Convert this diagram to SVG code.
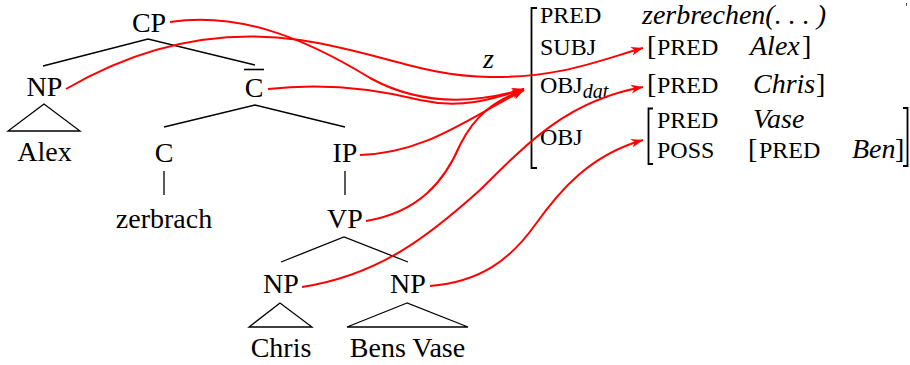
<svg xmlns="http://www.w3.org/2000/svg" width="910" height="365" viewBox="0 0 910 365">
<style>
.t,.i,.sc,.sub{font-family:"Liberation Serif","Times New Roman",Tinos,"DejaVu Serif",serif;fill:#000}
.t{font-size:28px}
.i{font-size:28px;font-style:italic}
.sc{font-size:24px}
.sub{font-size:20px;font-style:italic}
.e{stroke:#000;stroke-width:1.3;fill:none}
.br{stroke:#000;stroke-width:1.8;fill:none}
.a{stroke:#ff0000;stroke-width:2;fill:none;marker-end:url(#ah)}
</style>
<defs>
<marker id="ah" markerUnits="userSpaceOnUse" markerWidth="14" markerHeight="10" refX="12" refY="5" orient="auto">
<path d="M0,0.5 L12,5 L0,9.5 L3.5,5 Z" fill="#ff0000"/>
</marker>
</defs>
<rect width="910" height="365" fill="#fff"/>

<g id="tree-edges">
<path class="e" d="M43,66 L148,39 L255,65"/>
<path class="e" d="M164,127 L255,105 L345,127"/>
<path class="e" d="M164,171 L164,195"/>
<path class="e" d="M345,171 L345,195"/>
<path class="e" d="M281,262 L344,237 L408,262"/>
</g>

<g id="CP"><text class="t" x="149" y="32" text-anchor="middle">CP</text></g>
<g id="NP-Alex">
<text class="t" x="44.5" y="96" text-anchor="middle">NP</text>
<path class="e" d="M44,104 L8,131 L80,131 Z"/>
<text class="t" x="44.5" y="161" text-anchor="middle">Alex</text>
</g>
<g id="Cbar">
<text class="t" x="254" y="97" text-anchor="middle">C</text>
<line x1="244" y1="69.5" x2="264" y2="69.5" stroke="#000" stroke-width="1.6"/>
</g>
<g id="C">
<text class="t" x="164" y="162" text-anchor="middle">C</text>
<text class="t" x="164" y="228" text-anchor="middle">zerbrach</text>
</g>
<g id="IP"><text class="t" x="345" y="162" text-anchor="middle">IP</text></g>
<g id="VP"><text class="t" x="345" y="228" text-anchor="middle">VP</text></g>
<g id="NP-Chris">
<text class="t" x="281" y="293" text-anchor="middle">NP</text>
<path class="e" d="M280,303 L249,327 L312,327 Z"/>
<text class="t" x="281" y="357" text-anchor="middle">Chris</text>
</g>
<g id="NP-BensVase">
<text class="t" x="408" y="293" text-anchor="middle">NP</text>
<path class="e" d="M407,303 L347,327 L468,327 Z"/>
<text class="t" x="407.5" y="357" text-anchor="middle">Bens Vase</text>
</g>

<g id="fstructure">
<path class="br" d="M537,8 L531.5,8 L531.5,168 L537,168"/>
<text class="sc" x="540" y="23">PRED</text>
<text class="i" x="642" y="24">zerbrechen(. . . )</text>
<text class="sc" x="540" y="55">SUBJ</text>
<text class="t" x="647" y="55">[</text>
<text class="sc" x="657" y="55">PRED</text>
<text class="i" x="750" y="55">Alex</text>
<text class="t" x="802" y="55">]</text>
<text class="sc" x="540" y="93">OBJ<tspan class="sub" dy="5">dat</tspan></text>
<text class="t" x="647" y="93">[</text>
<text class="sc" x="657" y="93">PRED</text>
<text class="i" x="753" y="93">Chris</text>
<text class="t" x="816" y="93">]</text>
<text class="sc" x="540" y="145">OBJ</text>
<path class="br" d="M653,108.5 L648.5,108.5 L648.5,164 L653,164"/>
<text class="sc" x="657" y="128">PRED</text>
<text class="i" x="753" y="128">Vase</text>
<text class="sc" x="657" y="158">POSS</text>
<text class="t" x="748" y="158">[</text>
<text class="sc" x="759" y="158">PRED</text>
<text class="i" x="852" y="158">Ben</text>
<text class="t" x="895" y="158">]</text>
<path class="br" d="M903,108 L907.5,108 L907.5,166 L903,166"/>
<line x1="906.5" y1="3" x2="906.5" y2="6" stroke="#555" stroke-width="1"/>
<text class="i" x="483" y="68">z</text>
</g>

<g id="connectors">
<path class="a" d="M170,22 C235,12 300,35 370,78 C410,100 460,108 524,89"/>
<path class="a" d="M66,89 C150,40 230,30 300,40 C380,52 420,76 490,77 C560,78 600,60 643,48"/>
<path class="a" d="M268,89 C330,82 380,90 420,100 C460,109 490,100 524,89"/>
<path class="a" d="M360,155 C425,153 465,120 524,90"/>
<path class="a" d="M366,221 C420,212 445,180 460,145 C475,115 495,100 524,90"/>
<path class="a" d="M302,287 C380,275 430,235 480,190 C530,140 570,100 643,87"/>
<path class="a" d="M430,286 C480,282 510,260 535,225 C560,190 590,155 643,140"/>
</g>
</svg>
